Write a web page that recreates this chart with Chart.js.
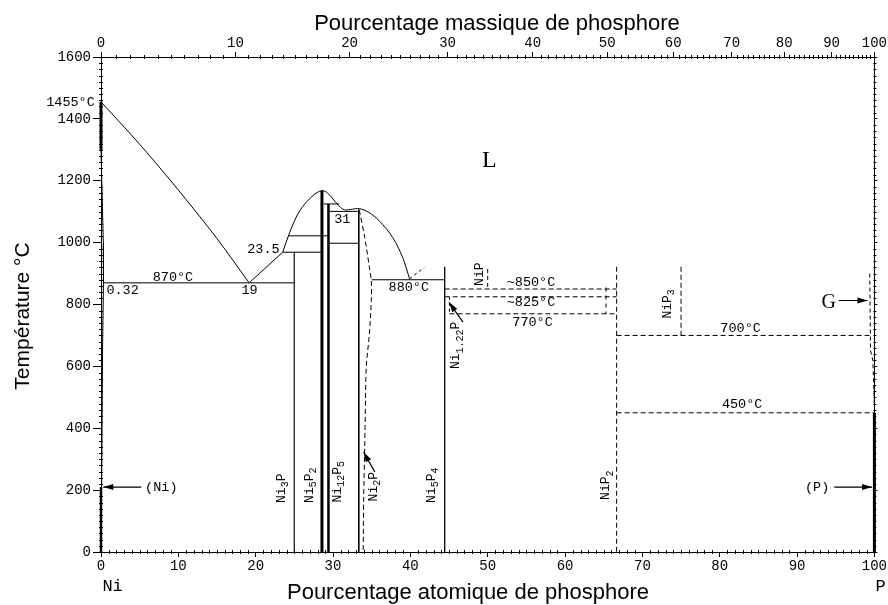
<!DOCTYPE html>
<html><head><meta charset="utf-8">
<script src="https://cdn.jsdelivr.net/npm/chart.js@4.4.1/dist/chart.umd.min.js"></script>
<style>html,body{margin:0;padding:0;background:#fff;}#wrap{width:888px;height:605px;}</style>
</head><body><div id="wrap"><canvas id="c" width="888" height="605"></canvas></div>
<script>
// ---------- DATA (x = atomic % P, y = temperature °C) ----------
const massTickValues = [0,10,20,30,40,50,60,70,80,90,100];
const massTickLabels = ['0','10','20','30','40','50','60','70','80','90','100'];

const liquidusNiRich = [[0,1455],[5,1318],[10,1170],[15,1013],[19.15,870]];
const liquidusToPeritectic = [[19.15,870],[23.5,969]];
const liquidusDome = [[23.5,969],[24.4,1033],[25.7,1103],[27.4,1152],[28.57,1168],[29.3,1160],[30.0,1141],[30.8,1118],[31.5,1106],[32.5,1108],[33.4,1110],[34.6,1098],[35.95,1071],[37.7,1017],[39.0,952],[39.9,883]];

const eutectic870 = [[0.32,870],[25,870]];
const peritectic969 = [[23.5,969],[28.57,969]];
const iso1022 = [[24.25,1022],[29.41,1022]];
const iso1125 = [[28.8,1125],[30.8,1125]];
const iso1101 = [[29.6,1101],[33.33,1101]];
const iso998 = [[29.41,998],[33.33,998]];
const eutectic880 = [[35.0,880],[44.44,880]];

const lineNi3P = [[25,969],[25,0]];
const lineNi5P2 = [[28.57,1168],[28.57,0]];
const lineNi12P5 = [[29.41,1125],[29.41,0]];
const lineNi2P = [[33.33,1107],[33.33,0]];
const lineNi5P4 = [[44.44,922],[44.44,0]];
const nickelSolidus = [[0,1455],[0,1300]];
const nickelSolvus = [[0,1300],[0.15,1150],[0.3,1000],[0.32,870],[0.2,650],[0.08,210],[0,0]];
const nickelLow = [[0,210],[0,0]];
const phosphorusSolid = [[100,450],[100,0]];

const ni2pBoundary = [[33.4,1105],[34.1,1017],[34.7,920],[34.95,877],[34.95,813],[34.7,705],[34.3,598],[34.2,490],[34.1,340],[33.96,168],[33.9,0]];
const liquidusExtension = [[39.9,883],[41.8,920]];
const iso850 = [[44.44,850],[66.67,850]];
const iso825 = [[44.44,825],[66.67,825]];
const iso770 = [[45.05,770],[66.67,770]];
const lineNi122P = [[45.05,825],[45.05,770]];
const lineNiP = [[50,915],[50,850]];
const lineNiP2 = [[66.67,922],[66.67,0]];
const lineNiP2Left = [[65.3,855],[65.3,770]];
const lineNiP3 = [[75,922],[75,700]];
const iso700 = [[66.67,700],[99.5,700]];
const iso450 = [[66.67,450],[100,450]];
const gasBoundary = [[99.4,900],[99.5,652],[99.8,619],[100,469]];

const arrowNi = [[5.2,210],[0.3,210]];
const arrowP = [[94.8,210],[99.7,210]];
const arrowG = [[95.4,813],[99.1,813]];
const arrowNi2P = [[35.4,259],[33.95,323]];
const arrowNi122P = [[46.8,743],[45.0,807]];

// text annotations: {t, x, y, align, rot, kind}
const annotations = [
  {t:'1455°C', x:-0.8, y:1452, align:'right'},
  {t:'870°C', x:9.3, y:888},
  {t:'0.32', x:0.7, y:845, align:'left'},
  {t:'19', x:19.2, y:845},
  {t:'23.5', x:23.1, y:977, align:'right'},
  {t:'31', x:31.2, y:1076},
  {t:'880°C', x:39.8, y:856},
  {t:'~850°C', x:55.6, y:872},
  {t:'~825°C', x:55.6, y:807},
  {t:'770°C', x:55.8, y:743},
  {t:'700°C', x:82.7, y:722},
  {t:'450°C', x:82.9, y:476},
  {t:'(Ni)', x:5.7, y:210, align:'left'},
  {t:'(P)', x:92.6, y:210},
  {t:'L', x:50.2, y:1265, kind:'big'},
  {t:'G', x:94.1, y:807, kind:'mid'},
  {t:'Ni{3}P', x:23.3, y:206, rot:true},
  {t:'Ni{5}P{2}', x:27.0, y:216, rot:true},
  {t:'Ni{12}P{5}', x:30.6, y:227, rot:true},
  {t:'Ni{2}P', x:35.2, y:211, rot:true},
  {t:'Ni{5}P{4}', x:42.7, y:216, rot:true},
  {t:'NiP{2}', x:65.3, y:216, rot:true},
  {t:'NiP', x:48.9, y:898, rot:true},
  {t:'Ni{1.22}P', x:45.9, y:668, rot:true},
  {t:'NiP{3}', x:73.2, y:802, rot:true},
  {t:'Ni', x:1.5, y:-113, kind:'elem'},
  {t:'P', x:100.8, y:-113, kind:'elem'}
];

// ---------- helpers ----------
const WT_NI = 58.69, WT_P = 30.97;
function massToAtomic(w){ if(w<=0) return 0; if(w>=100) return 100; const p=w/WT_P, n=(100-w)/WT_NI; return 100*p/(p+n); }
const pts = a => a.map(([x,y])=>({x,y}));
const MONO = '"Liberation Mono", monospace';
const SERIF = '"Liberation Serif", serif';
const SANS = '"Liberation Sans", Arial, sans-serif';

function line(data, opts={}){
  return Object.assign({data:pts(data), showLine:true, borderColor:'#000', borderWidth:1, pointRadius:0, tension:0, fill:false, clip:6}, opts);
}
const D = [5,3];
const datasets = [
  line(liquidusNiRich,{tension:0.3}),
  line(liquidusToPeritectic),
  line(liquidusDome,{tension:0.35}),
  line(eutectic870), line(peritectic969), line(iso1022), line(iso1125), line(iso1101), line(iso998), line(eutectic880),
  line(lineNi3P,{borderColor:'#333'}), line(lineNi5P2,{borderWidth:3}), line(lineNi12P5,{borderWidth:2.5}), line(lineNi2P), line(lineNi5P4,{borderWidth:1.3}),
  line(nickelSolidus,{borderWidth:3}), line(nickelSolvus), line(nickelLow,{borderWidth:2.5}), line(phosphorusSolid,{borderWidth:3}),
  line(ni2pBoundary,{borderDash:D, tension:0.3}), line(liquidusExtension,{borderDash:[3,3]}),
  line(iso850,{borderDash:D}), line(iso825,{borderDash:D}), line(iso770,{borderDash:D}), line(lineNi122P,{borderDash:[3,3]}),
  line(lineNiP,{borderDash:[4,3]}), line(lineNiP2,{borderDash:D}), line(lineNiP2Left,{borderDash:[4,4]}), line(lineNiP3,{borderDash:D}),
  line(iso700,{borderDash:D}), line(iso450,{borderDash:D}), line(gasBoundary,{borderDash:[4,3]}),
  line(arrowNi,{arrowHead:true, borderWidth:1.2}), line(arrowP,{arrowHead:true, borderWidth:1.2}), line(arrowG,{arrowHead:true, borderWidth:1.2}),
  line(arrowNi2P,{arrowHead:true, borderWidth:1.2}), line(arrowNi122P,{arrowHead:true, borderWidth:1.2})
];

const arrowPlugin = {
  id:'arrows',
  afterDatasetsDraw(chart){
    const ctx=chart.ctx, xs=chart.scales.x, ys=chart.scales.y;
    chart.data.datasets.forEach(ds=>{
      if(!ds.arrowHead) return;
      const n=ds.data.length, a=ds.data[n-2], b=ds.data[n-1];
      const x1=xs.getPixelForValue(a.x), y1=ys.getPixelForValue(a.y);
      const x2=xs.getPixelForValue(b.x), y2=ys.getPixelForValue(b.y);
      const ang=Math.atan2(y2-y1,x2-x1), L=10, W=3;
      const c=Math.cos(ang), s=Math.sin(ang);
      ctx.save(); ctx.fillStyle='#000'; ctx.beginPath();
      ctx.moveTo(x2,y2);
      ctx.lineTo(x2-L*c+W*s, y2-L*s-W*c);
      ctx.lineTo(x2-L*c-W*s, y2-L*s+W*c);
      ctx.closePath(); ctx.fill(); ctx.restore();
    });
  }
};

function drawRich(ctx, text, size){
  const segs=[]; let re=/([^{]+)|\{([^}]*)\}/g, m;
  while((m=re.exec(text))){ if(m[1]) segs.push({t:m[1],sub:false}); else segs.push({t:m[2],sub:true}); }
  const subSize=Math.round(size*0.78);
  let w=0;
  segs.forEach(sg=>{ ctx.font=(sg.sub?subSize:size)+'px '+MONO; sg.w=ctx.measureText(sg.t).width; w+=sg.w; });
  let x=-w/2;
  segs.forEach(sg=>{ ctx.font=(sg.sub?subSize:size)+'px '+MONO; ctx.textAlign='left'; ctx.fillText(sg.t, x, sg.sub? size*0.3 : 0); x+=sg.w; });
}

const textPlugin = {
  id:'texts',
  afterDraw(chart){
    const ctx=chart.ctx, xs=chart.scales.x, ys=chart.scales.y, ca=chart.chartArea;
    ctx.save(); ctx.fillStyle='#000';
    annotations.forEach(a=>{
      const px=xs.getPixelForValue(a.x), py=ys.getPixelForValue(a.y);
      ctx.save(); ctx.translate(px,py);
      ctx.textBaseline='middle';
      if(a.rot){ ctx.rotate(-Math.PI/2); drawRich(ctx,a.t,13); }
      else {
        let f='13.5px '+MONO;
        if(a.kind==='big') f='24px '+SERIF;
        else if(a.kind==='mid') f='20px '+SERIF;
        else if(a.kind==='elem') f='17px '+MONO;
        ctx.font=f; ctx.textAlign=a.align||'center'; ctx.fillText(a.t,0,0);
      }
      ctx.restore();
    });
    // axis titles
    ctx.font='22px '+SANS; ctx.textAlign='center'; ctx.textBaseline='alphabetic';
    ctx.fillText('Pourcentage massique de phosphore', 497, 30);
    ctx.fillText('Pourcentage atomique de phosphore', 468, 599);
    ctx.save(); ctx.translate(23, 316); ctx.rotate(-Math.PI/2); ctx.textBaseline='middle';
    ctx.font='21px '+SANS; ctx.fillText('Température °C',0,0); ctx.restore();
    // minor ticks
    ctx.strokeStyle='#000'; ctx.lineWidth=1; ctx.beginPath();
    for(let i=1;i<100;i++){ if(i%10===0) continue; const x=Math.round(xs.getPixelForValue(i))+0.5; ctx.moveTo(x,ca.bottom-2); ctx.lineTo(x,ca.bottom+2); }
    for(let i=1;i<100;i++){ if(i%10===0) continue; const x=Math.round(xs.getPixelForValue(massToAtomic(i)))+0.5; ctx.moveTo(x,ca.top-2); ctx.lineTo(x,ca.top+2); }
    for(let t=20;t<1600;t+=20){ if(t%200===0) continue; const y=Math.round(ys.getPixelForValue(t))+0.5; ctx.moveTo(ca.left-2,y); ctx.lineTo(ca.left+2,y); ctx.moveTo(ca.right-1,y); ctx.lineTo(ca.right+2,y); }
    ctx.stroke();
    ctx.restore();
  }
};

const tickFont = {family:'"Liberation Mono", monospace', size:14};
new Chart(document.getElementById('c'), {
  type:'scatter',
  data:{datasets},
  options:{
    responsive:false, animation:false, devicePixelRatio:1,
    layout:{padding:0},
    plugins:{legend:{display:false}, tooltip:{enabled:false}},
    scales:{
      x:{type:'linear', position:'bottom', min:0, max:100,
        ticks:{stepSize:10, font:tickFont, color:'#000', padding:1, maxRotation:0, autoSkip:false, callback:v=>String(v)},
        grid:{drawOnChartArea:false, tickLength:5, color:'#000'}, border:{color:'#000', width:1},
        afterFit(s){ s.height=53; }},
      x2:{type:'linear', position:'top', min:0, max:100,
        afterBuildTicks(s){ s.ticks = massTickValues.map(w=>({value:massToAtomic(w)})); },
        ticks:{font:tickFont, color:'#000', padding:0, maxRotation:0, autoSkip:false, callback:(v,i)=>massTickLabels[i]},
        grid:{drawOnChartArea:false, tickLength:5, color:'#000'}, border:{color:'#000', width:1},
        afterFit(s){ s.height=57; }},
      y:{type:'linear', position:'left', min:0, max:1600,
        ticks:{stepSize:200, font:tickFont, color:'#000', padding:2, callback:v=>String(v)},
        grid:{drawOnChartArea:false, tickLength:8, color:'#000'}, border:{color:'#000', width:1},
        afterFit(s){ s.width=101; }},
      y2:{type:'linear', position:'right', min:0, max:1600,
        ticks:{stepSize:200, display:false},
        grid:{drawOnChartArea:false, tickLength:3, color:'#000'}, border:{color:'#000', width:1},
        afterFit(s){ s.width=12.5; }}
    }
  },
  plugins:[arrowPlugin, textPlugin]
});
</script></body></html>
